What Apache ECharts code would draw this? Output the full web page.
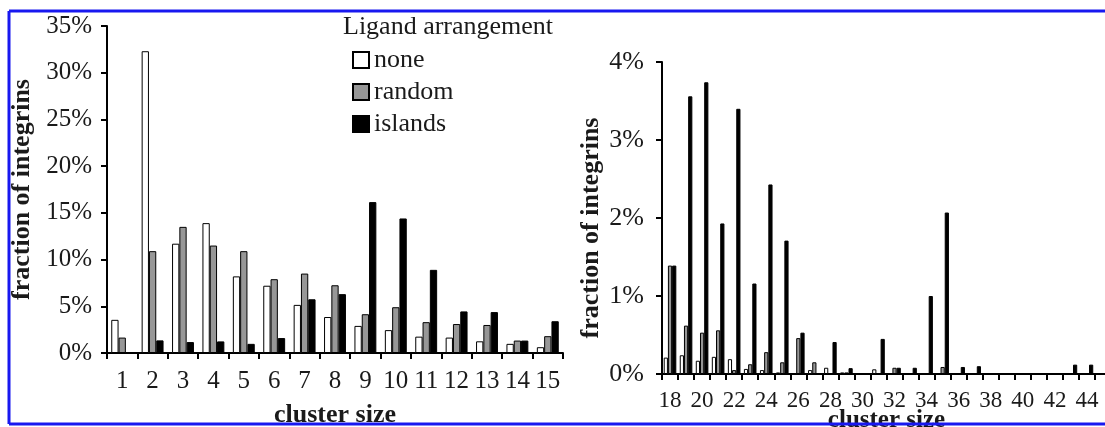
<!DOCTYPE html>
<html>
<head>
<meta charset="utf-8">
<script src="https://cdn.jsdelivr.net/npm/echarts@6/dist/echarts.min.js"></script>
<style>
html,body{margin:0;padding:0;background:#fff;}
#chart{width:1105px;height:427px;}
</style>
</head>
<body>
<div id="chart"></div>
<script>
// ---- data ----
const seriesNames = ['none', 'random', 'islands'];
const legendTitle = 'Ligand arrangement';
const yTitle = 'fraction of integrins';
const xTitle = 'cluster size';

const catsLeft = ['1','2','3','4','5','6','7','8','9','10','11','12','13','14','15'];
const noneLeft    = [3.55, 32.3, 11.7, 13.9, 8.2, 7.2, 5.15, 3.85, 2.9, 2.45, 1.75, 1.65, 1.25, 0.98, 0.62];
const randomLeft  = [1.65, 10.9, 13.5, 11.5, 10.9, 7.9, 8.5, 7.25, 4.15, 4.9, 3.3, 3.1, 3.0, 1.33, 1.8];
const islandsLeft = [0, 1.35, 1.17, 1.24, 0.98, 1.6, 5.75, 6.3, 16.15, 14.4, 8.9, 4.45, 4.38, 1.33, 3.4];

const catsRight = ['18','19','20','21','22','23','24','25','26','27','28','29','30','31','32','33','34','35','36','37','38','39','40','41','42','43','44','45'];
const noneRight    = [0.21, 0.24, 0.17, 0.22, 0.19, 0.065, 0.05, 0.02, 0, 0.05, 0.08, 0.02, 0, 0.06, 0, 0, 0, 0, 0, 0, 0, 0, 0, 0, 0, 0, 0, 0];
const randomRight  = [1.39, 0.62, 0.53, 0.56, 0.05, 0.125, 0.28, 0.15, 0.46, 0.15, 0, 0.02, 0, 0, 0.08, 0, 0, 0.09, 0, 0, 0, 0, 0, 0, 0, 0, 0, 0];
const islandsRight = [1.39, 3.56, 3.74, 1.93, 3.40, 1.16, 2.43, 1.71, 0.53, 0, 0.41, 0.075, 0, 0.45, 0.08, 0.08, 1.0, 2.07, 0.09, 0.1, 0, 0, 0, 0, 0, 0.12, 0.12, 0];

const yTicksLeft = {min: 0, max: 35, interval: 5};
const yTicksRight = {min: 0, max: 4, interval: 1};

// ---- styles ----
const FONT = 'Liberation Serif';
const TXT = '#1a1a1a';
const fills = {none: '#ffffff', random: '#979797', islands: '#000000'};

function axisX(grid, cats, opts) {
  return {
    type: 'category', gridIndex: grid, data: cats,
    axisLine: {show: true, lineStyle: {color: '#000', width: 2}},
    axisTick: {show: true, length: 6, interval: 0, lineStyle: {color: '#000', width: 2}},
    axisLabel: Object.assign({fontFamily: FONT, color: TXT}, opts.label),
    name: xTitle, nameLocation: 'middle', nameGap: opts.nameGap, nameMoveOverlap: false,
    nameTextStyle: {fontFamily: FONT, fontWeight: 'bold', fontSize: opts.nameSize, color: TXT}
  };
}
function axisY(grid, ticks, opts) {
  return {
    type: 'value', gridIndex: grid, min: ticks.min, max: ticks.max, interval: ticks.interval,
    splitLine: {show: false},
    axisLine: {show: true, lineStyle: {color: '#000', width: 2}},
    axisTick: {show: true, length: 6, lineStyle: {color: '#000', width: 2}},
    axisLabel: {formatter: '{value}%', fontFamily: FONT, color: TXT, fontSize: opts.labelSize, margin: opts.margin},
    name: yTitle, nameLocation: 'middle', nameGap: opts.nameGap, nameRotate: 90, nameMoveOverlap: false,
    nameTextStyle: {fontFamily: FONT, fontWeight: 'bold', fontSize: 26, color: TXT, padding: opts.namePad || 0}
  };
}
function bar(name, data, grid, width) {
  return {
    type: 'bar', name: name, data: data, xAxisIndex: grid, yAxisIndex: grid,
    barWidth: width, barGap: '0%',
    itemStyle: {color: fills[name], borderColor: '#000', borderWidth: 1},
    emphasis: {disabled: true}
  };
}

const chart = echarts.init(document.getElementById('chart'), null, {renderer: 'canvas'});
chart.setOption({
  animation: false,
  backgroundColor: '#fff',
  title: {
    text: legendTitle, left: 343, top: 14, padding: 0,
    textStyle: {fontFamily: FONT, fontWeight: 'normal', fontSize: 26, color: TXT}
  },
  legend: {
    data: seriesNames, orient: 'vertical', left: 352, top: 47, padding: 0,
    itemWidth: 16, itemHeight: 16, itemGap: 6, icon: 'rect', selectedMode: false,
    textStyle: {fontFamily: FONT, fontSize: 26, color: TXT, lineHeight: 26}
  },
  grid: [
    {left: 107, top: 26, right: 542, bottom: 74, outerBoundsMode: 'none', containLabel: false},
    {left: 662, top: 62, right: -6, bottom: 53, outerBoundsMode: 'none', containLabel: false}
  ],
  xAxis: [
    axisX(0, catsLeft, {label: {fontSize: 25, margin: 16, interval: 0}, nameGap: 49, nameSize: 26}),
    axisX(1, catsRight, {label: {fontSize: 23, margin: 15, interval: 1}, nameGap: 34, nameSize: 25})
  ],
  yAxis: [
    axisY(0, yTicksLeft, {labelSize: 25, margin: 15, nameGap: 72}),
    axisY(1, yTicksRight, {labelSize: 26, margin: 18, nameGap: 58, namePad: [0, 20, 0, 0]})
  ],
  series: [
    bar('none', noneLeft, 0, 7.3),
    bar('random', randomLeft, 0, 7.3),
    bar('islands', islandsLeft, 0, 7.3),
    bar('none', noneRight, 1, 4.2),
    bar('random', randomRight, 1, 4.2),
    bar('islands', islandsRight, 1, 4.2)
  ],
  graphic: [
    {type: 'line', shape: {x1: 9, y1: 11, x2: 1105, y2: 11}, style: {stroke: '#1818f0', lineWidth: 3}, z: 100},
    {type: 'line', shape: {x1: 9, y1: 424, x2: 1105, y2: 424}, style: {stroke: '#1818f0', lineWidth: 3}, z: 100},
    {type: 'line', shape: {x1: 9, y1: 11, x2: 9, y2: 424}, style: {stroke: '#1818f0', lineWidth: 3}, z: 100}
  ]
});
</script>
</body>
</html>
